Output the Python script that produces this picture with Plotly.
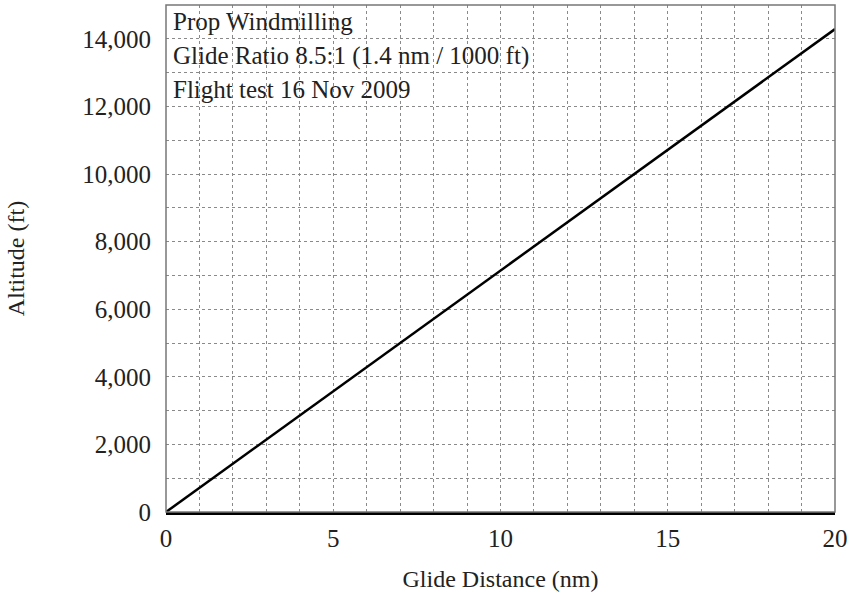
import plotly.graph_objects as go

# Glide performance, prop windmilling: 1.4 nm per 1000 ft of altitude
glide_distance_nm = [0, 20]
altitude_ft = [0, 14286]

x_tick_vals = [0, 5, 10, 15, 20]
y_tick_vals = [0, 2000, 4000, 6000, 8000, 10000, 12000, 14000]

note_lines = [
    "Prop Windmilling",
    "Glide Ratio 8.5:1 (1.4 nm / 1000 ft)",
    "Flight test 16 Nov 2009",
]
note_y = [14500, 13500, 12500]

SERIF = "Liberation Serif, Times New Roman, serif"
TEXT = "#222222"
GRID = "#8a8a8a"

fig = go.Figure()
fig.add_trace(go.Scatter(
    x=glide_distance_nm, y=altitude_ft, mode="lines",
    line=dict(color="black", width=2.5), showlegend=False, hoverinfo="skip",
))

for text, yv in zip(note_lines, note_y):
    fig.add_annotation(
        x=0.15, y=yv, xref="x", yref="y", text=text, showarrow=False,
        xanchor="left", yanchor="middle",
        font=dict(family=SERIF, size=25, color=TEXT),
    )

# grey frame round the plot area
fig.add_shape(type="rect", xref="paper", yref="paper", x0=0, y0=0, x1=1, y1=1,
              line=dict(color="#777777", width=1.5), layer="above")

fig.update_layout(
    width=862, height=596,
    margin=dict(l=166, r=27, t=5, b=84),
    paper_bgcolor="white", plot_bgcolor="white",
    font=dict(family=SERIF, size=25, color=TEXT),
    xaxis=dict(
        range=[0, 20], tickvals=x_tick_vals,
        showgrid=True, gridcolor=GRID, gridwidth=1, griddash="dot",
        minor=dict(dtick=1, showgrid=True, gridcolor=GRID, gridwidth=1, griddash="dot"),
        showline=True, linecolor="black", linewidth=3,
        zeroline=False, ticks="", ticklabelstandoff=2,
        title=dict(text="Glide Distance (nm)", standoff=20, font=dict(size=24)),
    ),
    yaxis=dict(
        range=[0, 15000], tickvals=y_tick_vals, tickformat=",",
        showgrid=True, gridcolor=GRID, gridwidth=1, griddash="dot",
        minor=dict(dtick=1000, showgrid=True, gridcolor=GRID, gridwidth=1, griddash="dot"),
        showline=False, zeroline=False, ticks="", ticklabelstandoff=14,
        title=dict(text="Altitude (ft)", standoff=50, font=dict(size=24)),
    ),
)

fig.write_html("out.html")
